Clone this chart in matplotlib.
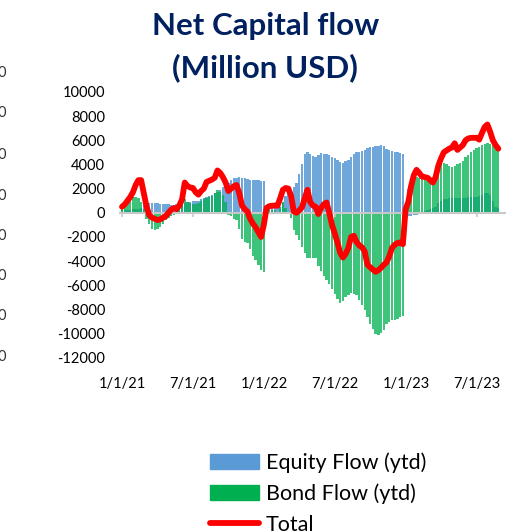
import matplotlib
matplotlib.use("Agg")
import matplotlib.pyplot as plt
import matplotlib.dates as mdates
from matplotlib.patches import Patch
from matplotlib.lines import Line2D
import numpy as np
import pandas as pd

# weekly ytd flows, million USD, starting 1/1/21
start_date = "2021-01-01"
equity_flow = [
    200, 200, 200, 250, 300, 300, 350, 400, 900, 900,
    850, 850, 800, 800, 750, 750, 700, 700, 650, 650,
    700, 750, 800, 850, 900, 900, 950, 1000, 1000, 1100,
    1200, 1300, 1400, 1500, 1600, 1700, 1900, 2100, 2300, 2500,
    2700, 2900, 2900, 2950, 2900, 2850, 2800, 2750, 2750, 2700,
    2700, 2650, 2650, 400, 400, 400, 400, 400, 500, 900,
    1400, 1700, 1900, 2100, 2500, 3200, 4000, 4900, 5050, 4900,
    4700, 4650, 4800, 4950, 4900, 4850, 4800, 4600, 4500, 4400,
    4200, 4150, 4300, 4400, 4600, 4900, 5000, 5050, 5100, 5200,
    5350, 5400, 5450, 5500, 5550, 5600, 5500, 5300, 5200, 5100,
    5050, 5000, 4950, 4900, -300, -300, -250, -200, -150, -100,
    100, 150, 200, 300, 400, 500, 800, 1000, 1100, 1150,
    1200, 1250, 1250, 1200, 1250, 1250, 1250, 1300, 1300, 1300,
    1300, 1350, 1450, 1600, 1650, 1500, 1000, 500, 400,
]
bond_flow = [
    300, 600, 900, 1100, 1300, 1300, 1250, 900, 300, -500,
    -900, -1300, -1450, -1350, -1200, -900, -600, -400, -300, -200,
    0, 400, 1000, 1100, 900, 850, 750, 700, 800, 1000,
    1100, 1200, 1300, 1400, 1600, 1900, 1750, 1500, 900, -200,
    -300, -500, -600, -1300, -2200, -2400, -2500, -3000, -3600, -3900,
    -4300, -4700, -4880, 200, 200, 200, 200, 100, 500, 900,
    400, 0, -400, -1400, -1800, -2230, -2800, -3300, -3720, -3720,
    -3700, -3720, -4400, -4800, -5200, -5540, -5900, -6300, -6700, -7100,
    -7500, -7300, -6950, -6800, -6620, -6700, -6780, -7200, -7600, -8020,
    -8600, -9200, -9600, -10000, -10090, -9900, -9700, -9200, -9000, -8900,
    -8850, -8750, -8600, -8500, 200, 2000, 2900, 3000, 2950, 2900,
    2800, 2700, 2600, 2500, 2450, 3000, 3900, 4000, 4130, 4000,
    3850, 3800, 3900, 4050, 4150, 4300, 4600, 4800, 5040, 5200,
    5350, 5460, 5600, 5700, 5790, 5700, 5600, 5500, 5450,
]
total_flow = [
    500, 700, 1000, 1300, 1700, 2300, 2700, 2700, 1600, 500,
    -200, -400, -500, -600, -550, -400, -300, 0, 250, 400,
    300, 600, 1100, 2500, 2200, 2100, 2050, 1700, 1500, 1800,
    2000, 2550, 2650, 2750, 2900, 3500, 3300, 2950, 2500, 1800,
    2000, 2200, 2300, 1600, 600, 300, 100, -500, -900, -1200,
    -1600, -2000, -1000, 400, 550, 580, 600, 580, 1200, 1900,
    2050, 2000, 1400, 100, 0, 200, 450, 1200, 1900, 900,
    600, 500, -100, 400, 700, 850, 0, -1000, -1700, -2450,
    -3300, -3700, -3400, -2900, -2000, -1900, -2400, -2700, -2850, -3200,
    -4300, -4500, -4700, -4880, -4750, -4550, -4300, -4100, -3600, -2900,
    -2650, -2500, -2450, -2600, 300, 900, 2200, 3100, 3550, 3300,
    3000, 2950, 2900, 2700, 2500, 2950, 3900, 4500, 5000, 5150,
    5300, 5400, 5750, 5200, 5400, 5600, 6000, 6150, 6200, 6200,
    6200, 6050, 6600, 7100, 7300, 6700, 6000, 5600, 5300,
]
y_ticks = list(range(-12000, 10001, 2000))
x_ticks = ["2021-01-01", "2021-07-01", "2022-01-01", "2022-07-01", "2023-01-01", "2023-07-01"]
x_labels = ["1/1/21", "7/1/21", "1/1/22", "7/1/22", "1/1/23", "7/1/23"]

dates = pd.date_range(start_date, periods=len(total_flow), freq="7D")

blue = "#5B9BD5"
green = "#00B050"
navy = "#002060"
font = ["Lato", "DejaVu Sans"]

fig = plt.figure(figsize=(5.13, 5.31), dpi=100)
ax = fig.add_axes([0.2318, 0.326, 0.754, 0.501])

ax.bar(dates, equity_flow, width=6.0, color=blue, alpha=0.88, linewidth=0)
ax.bar(dates, bond_flow, width=6.0, color=green, alpha=0.76, linewidth=0)
ax.axhline(0, color="#c8c8c8", lw=1.5, zorder=2)
tick_dates = pd.to_datetime(x_ticks)
ax.vlines(tick_dates, -350, 0, color="#c8c8c8", lw=1.2, zorder=2)
ax.plot(dates, total_flow, color="#FF0000", lw=4.2, solid_capstyle="round",
        solid_joinstyle="round", zorder=3)

ax.set_xlim(pd.Timestamp("2020-12-24"), pd.Timestamp("2023-09-13"))
ax.set_ylim(-12000, 10000)
ax.set_yticks(y_ticks)
ax.set_yticklabels([str(v) for v in y_ticks], family=font, fontsize=10.5)
ax.set_xticks(tick_dates)
ax.set_xticklabels(x_labels, family=font, fontsize=10.5)
ax.tick_params(axis="y", length=0, pad=10)
ax.tick_params(axis="x", length=0, pad=14)
for s in ax.spines.values():
    s.set_visible(False)

fig.text(0.517, 0.951, "Net Capital flow", ha="center", va="center",
         fontsize=22.5, fontweight="bold", color=navy, family=font)
fig.text(0.517, 0.872, "(Million USD)", ha="center", va="center",
         fontsize=22.5, fontweight="bold", color=navy, family=font)

# cut-off labels of the neighbouring chart at the left edge
for yp in [73, 113, 155, 196, 236, 276, 316, 357]:
    fig.text(6 / 513, 1 - yp / 531, "0", ha="right", va="center",
             fontsize=10.5, family=font, color="#333333")

handles = [Patch(color=blue), Patch(color=green),
           Line2D([], [], color="#FF0000", lw=4.2, solid_capstyle="round")]
fig.legend(handles, ["Equity Flow (ytd)", "Bond Flow (ytd)", "Total"],
           loc="upper left", bbox_to_anchor=(0.392, 0.165), frameon=False,
           prop={"family": font, "size": 15.5}, handlelength=2.3,
           handleheight=0.7, handletextpad=0.3, labelspacing=0.5,
           borderaxespad=0)

fig.savefig("out.png", dpi=100)
